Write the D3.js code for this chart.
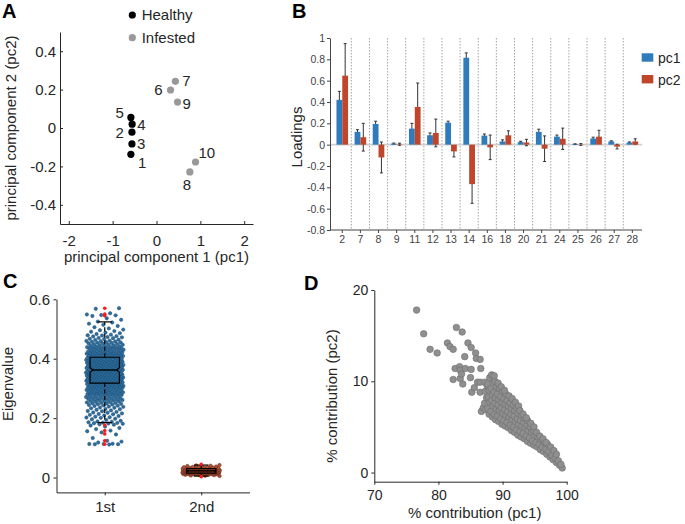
<!DOCTYPE html>
<html><head><meta charset="utf-8">
<script src="https://cdn.jsdelivr.net/npm/d3@7"></script>
<style>
body{margin:0;background:#fff;}
svg{font-family:"Liberation Sans",Arial,Helvetica,sans-serif;}
</style></head><body>
<svg id="chart" width="685" height="524"></svg>
<script>
// ---------------- Panel A data ----------------
const aLabels = ["1","2","3","4","5","6","7","8","9","10"];
const aGroup  = ["Healthy","Healthy","Healthy","Healthy","Healthy","Infested","Infested","Infested","Infested","Infested"];
const aPc1 = [-0.584,-0.56,-0.56,-0.555,-0.584, 0.32, 0.43, 0.76, 0.48, 0.89];
const aPc2 = [-0.137,-0.022,-0.083,0.02,0.055, 0.198, 0.243,-0.229, 0.135,-0.177];
const aXTicks = [-2,-1,0,1,2];
const aYTicks = [-0.4,-0.2,0,0.2,0.4];
const aLegend = ["Healthy","Infested"];

// ---------------- Panel B data ----------------
const bCats  = ["2","7","8","9","11","12","13","14","16","18","20","21","24","25","26","27","28"];
const bPc1   = [0.42,0.12,0.194,0.01,0.15,0.088,0.206,0.815,0.085,0.03,0.024,0.12,0.075,0.005,0.058,0.03,0.02];
const bPc1Err= [0.08,0.02,0.026,0.005,0.05,0.022,0.014,0.045,0.015,0.015,0.008,0.025,0.015,0.003,0.012,0.006,0.006];
const bPc2   = [0.647,0.07,-0.12,0.004,0.353,0.11,-0.063,-0.37,-0.025,0.088,0.02,-0.038,0.055,0.002,0.075,-0.018,0.03];
const bPc2Err= [0.30,0.13,0.145,0.01,0.225,0.13,0.052,0.18,0.115,0.042,0.03,0.12,0.10,0.008,0.06,0.022,0.025];
const bYTicks = [-0.8,-0.6,-0.4,-0.2,0,0.2,0.4,0.6,0.8,1];
const bSeries = ["pc1","pc2"];

// ---------------- Panel C data (eigenvalues, in thousandths) ----------------
const cCats = ["1st","2nd"];
const cFirst = [111,112,112,113,113,114,118,121,124,133,145,152,156,158,163,167,172,175,178,179,
181,182,183,184,185,186,188,189,191,194,196,198,201,202,203,205,207,209,211,213,214,216,218,219,
221,223,224,226,228,230,231,233,235,236,238,239,241,242,243,244,246,247,248,249,250,251,252,253,254,255,256,257,258,259,
260,261,261,262,263,264,265,265,266,267,268,269,270,271,271,272,273,274,275,276,277,278,278,279,
280,280,281,281,282,283,283,284,285,285,286,287,287,288,288,289,290,290,291,292,292,293,294,294,295,296,297,297,298,299,
300,300,301,301,302,302,303,303,304,304,305,305,306,307,307,308,308,309,310,310,311,311,312,312,313,313,314,315,315,316,316,317,318,318,319,319,
320,320,321,321,322,322,323,323,324,324,325,325,326,326,327,327,328,328,329,329,330,330,331,331,332,332,333,333,334,334,335,335,336,336,337,337,338,338,339,339,
340,340,341,341,342,342,343,343,344,344,344,345,345,346,346,347,347,348,348,349,349,350,350,351,351,352,352,353,353,354,354,355,355,356,356,357,357,358,358,359,359,359,
360,360,361,361,362,362,363,363,364,364,364,365,365,366,366,367,367,368,368,369,369,370,370,371,371,372,372,373,373,374,374,375,375,376,376,377,377,378,378,379,379,379,
380,380,381,381,382,382,383,383,384,384,385,385,386,386,387,387,388,388,389,389,390,390,391,391,392,392,393,393,394,394,395,395,396,396,397,397,398,398,399,399,
400,400,401,401,402,403,403,404,405,405,406,407,407,408,409,409,410,411,411,412,413,413,414,415,415,416,417,417,418,418,419,419,419,419,
420,421,421,422,423,424,424,425,426,427,427,428,429,430,430,431,432,433,433,434,435,436,436,437,438,438,439,439,
440,441,442,443,444,445,446,447,448,449,450,451,452,453,454,455,456,457,458,459,
460,461,463,464,466,467,469,470,472,473,475,476,478,479,481,483,486,488,491,493,496,498,
502,506,510,514,518,522,525,531,536,544,546,547,549,553,568,570];
const cSecond = [5,6,7,8,8,9,9,10,10,10,11,11,11,12,12,12,12,13,13,13,13,14,14,14,14,14,15,15,15,15,15,15,
16,16,16,16,16,16,17,17,17,17,17,17,17,18,18,18,18,18,18,18,19,19,19,19,19,19,19,20,20,20,20,20,20,20,20,
21,21,21,21,21,21,21,22,22,22,22,22,22,22,22,23,23,23,23,23,23,23,24,24,24,24,24,24,24,25,25,25,25,25,25,
26,26,26,26,26,26,27,27,27,27,27,28,28,28,28,28,29,29,29,29,30,30,30,30,31,31,31,32,32,32,33,33,34,34,35,35,36,37,38,39,40,41,42];
const cOutFirst  = [0.570,0.550,0.545,0.177,0.158,0.147,0.124,0.112];
const cOutSecond = [0.045,0.003];
const cQ1  = [0.318,0.015];
const cMed = [0.362,0.0225];
const cQ3  = [0.405,0.030];
const cWLo = [0.185,0.005];
const cWHi = [0.524,0.042];
const cYTicks = [0,0.2,0.4,0.6];

// ---------------- Panel D data ----------------
const dPc1 = [76.6,77.7,78.7,79.8,81.4,81.8,82.3,82.8,83.7,84.6,85.1,85.8,85.9,86.5,84.1,82.6,83.3,83.4,84.2,85.1,86.6,82.3,83.4,83.6,85.0,83.8,85.2,85.6,86.1,86.5,86.5,86.7,87.0,87.2,
87.4,87.2,87.5,87.3,87.6, 87.9,87.7,88.0,87.8,87.9,87.7,88.0, 88.4,88.2,88.5,88.3,88.4,88.2,88.5,88.3,
88.9,88.7,89.0,88.8,88.9,88.7,89.0,88.8,88.7, 89.4,89.2,89.5,89.3,89.4,89.2,89.5,89.3,
89.9,89.7,90.0,89.8,89.9,89.7,90.0,89.8, 90.4,90.2,90.5,90.3,90.4,90.2,90.5,90.3,
90.9,90.7,91.0,90.8,90.9,90.7,91.0, 91.4,91.2,91.5,91.3,91.4,91.2,91.5, 91.9,91.7,92.0,91.8,91.9,91.7,92.0,
92.4,92.2,92.5,92.3,92.4,92.2,92.5, 92.9,92.7,93.0,92.8,92.9,92.7, 93.4,93.2,93.5,93.3,93.4,93.2,
93.9,93.7,94.0,93.8,93.9,93.7, 94.4,94.2,94.5,94.3,94.4, 94.9,94.7,95.0,94.8,94.9, 95.4,95.2,95.5,95.3,
95.9,95.7,96.0,95.8, 96.4,96.2,96.5,96.3, 96.9,96.7,97.0,96.8, 97.4,97.2,97.5, 97.9,97.7,98.0, 98.4,98.2,98.4, 98.9,98.7, 99.3,99.1];
const dPc2 = [17.8,15.2,13.5,13.1,14.2,13.8,13.5,15.9,15.4,14.2,13.7,13.1,12.5,12.4,12.7,11.4,11.6,11.2,11.4,11.3,11.4,10.2,10.3,10.8,10.4,9.7,8.8,9.3,9.9,9.9,8.8,6.7,7.1,9.9,
6.9,7.6,8.2,8.9,9.5, 6.4,7.0,7.7,8.3,9.0,9.7,10.4, 6.1,6.7,7.3,7.9,8.5,9.2,9.8,10.7,
5.8,6.4,7.0,7.6,8.2,8.8,9.4,10.0,10.6, 5.6,6.2,6.8,7.4,8.0,8.6,9.2,9.8,
5.3,5.9,6.5,7.1,7.7,8.3,8.9,9.4, 5.1,5.7,6.3,6.9,7.5,8.1,8.6,9.0,
4.9,5.5,6.1,6.7,7.3,7.9,8.4, 4.6,5.2,5.8,6.4,7.0,7.6,8.1, 4.4,5.0,5.6,6.2,6.8,7.4,7.7,
4.1,4.7,5.3,5.9,6.5,7.1,7.3, 3.9,4.5,5.1,5.7,6.3,6.8, 3.7,4.3,4.9,5.5,6.0,6.4,
3.4,4.0,4.6,5.2,5.7,6.0, 3.2,3.8,4.4,5.0,5.4, 3.0,3.5,4.1,4.6,5.0, 2.8,3.3,3.9,4.4,
2.5,3.1,3.6,4.0, 2.3,2.8,3.3,3.7, 2.0,2.6,3.1,3.3, 1.7,2.3,2.8, 1.4,1.9,2.4, 1.1,1.6,2.0, 0.8,1.3, 0.5,0.9];
const dXTicks = [70,80,90,100];
const dYTicks = [0,10,20];

// ---------------- drawing ----------------
const svg = d3.select("#chart");
const AX = "#262626";

function drawAxis(g, axis, fs, color){
  g.call(axis);
  g.attr("font-family", null).attr("font-size", null);
  g.select(".domain").attr("stroke", color).attr("stroke-width", 1);
  g.selectAll(".tick line").attr("stroke", color).attr("stroke-width", 1);
  g.selectAll(".tick text").attr("fill", color).style("font-size", fs + "px");
}
function panelLabel(t, x, y){
  svg.append("text").attr("x", x).attr("y", y).text(t)
    .style("font-size","20px").style("font-weight","bold").attr("fill","#000");
}

// ===== Panel A =====
(function(){
  const x = d3.scaleLinear().domain([-2.2,2.2]).range([60,253]);
  const y = d3.scaleLinear().domain([-0.5,0.5]).range([224,32]);
  const g = svg.append("g");
  drawAxis(g.append("g").attr("transform","translate(0,224)"),
    d3.axisBottom(x).tickValues(aXTicks).tickFormat(d=>String(d)).tickSizeInner(-3).tickSizeOuter(0).tickPadding(11), 15, AX);
  drawAxis(g.append("g").attr("transform","translate(60,0)"),
    d3.axisLeft(y).tickValues(aYTicks).tickFormat(d=>String(d)).tickSizeInner(-3).tickSizeOuter(0).tickPadding(4), 15, AX);
  const col = {Healthy:"#000000", Infested:"#999999"};
  const offs = {"1":[7,9,"start"],"2":[-8,1,"end"],"3":[5,0,"start"],"4":[5,1,"start"],"5":[-7,-4,"end"],
                "6":[-8,0,"end"],"7":[7,0,"start"],"8":[-3,13,"middle"],"9":[5,2,"start"],"10":[3,-9,"start"]};
  aLabels.forEach((lab,i)=>{
    const px = x(aPc1[i]), py = y(aPc2[i]);
    g.append("circle").attr("cx",px).attr("cy",py).attr("r",3.6).attr("fill",col[aGroup[i]]);
    const o = offs[lab];
    g.append("text").attr("x",px+o[0]).attr("y",py+o[1]+5).attr("text-anchor",o[2])
      .style("font-size","15px").attr("fill",AX).text(lab);
  });
  aLegend.forEach((lab,i)=>{
    const ly = 15 + i*22.7;
    g.append("circle").attr("cx",132.3).attr("cy",ly).attr("r",3.6).attr("fill",col[lab]);
    g.append("text").attr("x",141.7).attr("y",ly+5.3).style("font-size","15px").attr("fill",AX).text(lab);
  });
  g.append("text").attr("x",156.5).attr("y",262).attr("text-anchor","middle").style("font-size","15px").attr("fill",AX)
    .text("principal component 1 (pc1)");
  g.append("text").attr("transform","translate(16,128) rotate(-90)").attr("text-anchor","middle").style("font-size","15px").attr("fill",AX)
    .text("principal component 2 (pc2)");
  panelLabel("A", 2, 18);
})();

// ===== Panel B =====
(function(){
  const x = d3.scaleBand().domain(bCats).range([333.2,641.4]);
  const y = d3.scaleLinear().domain([-0.8,1]).range([230,38]);
  const g = svg.append("g");
  const BC = "#444";
  bCats.slice(1).forEach(c=>{
    g.append("line").attr("x1",x(c)).attr("x2",x(c)).attr("y1",38).attr("y2",230)
      .attr("stroke","#9a9a9a").attr("stroke-width",0.9).attr("stroke-dasharray","1.5,1.5");
  });
  g.append("line").attr("x1",330).attr("x2",642).attr("y1",y(0)).attr("y2",y(0))
    .attr("stroke","#cfcfcf").attr("stroke-width",1.6);
  const bw = 5.8;
  const series = [
    {v:bPc1, e:bPc1Err, dx:-bw, col:"#2f7bbb"},
    {v:bPc2, e:bPc2Err, dx:0,   col:"#bf462b"}];
  series.forEach(s=>{
    bCats.forEach((c,i)=>{
      const cx = x(c) + x.bandwidth()/2 + s.dx + bw/2;
      const lo = s.v[i]-s.e[i], hi = s.v[i]+s.e[i];
      g.append("line").attr("x1",cx).attr("x2",cx).attr("y1",y(lo)).attr("y2",y(hi)).attr("stroke","#333").attr("stroke-width",1);
      g.append("line").attr("x1",cx-1.5).attr("x2",cx+1.5).attr("y1",y(hi)).attr("y2",y(hi)).attr("stroke","#333").attr("stroke-width",1);
      g.append("line").attr("x1",cx-1.5).attr("x2",cx+1.5).attr("y1",y(lo)).attr("y2",y(lo)).attr("stroke","#333").attr("stroke-width",1);
    });
  });
  series.forEach(s=>{
    bCats.forEach((c,i)=>{
      const bx = x(c) + x.bandwidth()/2 + s.dx;
      const v = s.v[i];
      g.append("rect").attr("x",bx).attr("width",bw)
        .attr("y",y(Math.max(0,v))).attr("height",Math.abs(y(v)-y(0)))
        .attr("fill",s.col);
    });
  });
  const xa = g.append("g").attr("transform","translate(0,230)");
  drawAxis(xa, d3.axisBottom(x).tickSizeInner(3).tickSizeOuter(0).tickPadding(2.5), 10.5, BC);
  xa.select(".domain").remove();
  g.append("line").attr("x1",330).attr("x2",642).attr("y1",230).attr("y2",230).attr("stroke",BC);
  drawAxis(g.append("g").attr("transform","translate(330,0)"),
    d3.axisLeft(y).tickValues(bYTicks).tickFormat(d=>String(d)).tickSizeInner(3).tickSizeOuter(0).tickPadding(2), 10.5, BC);
  const lc = ["#2f7bbb","#bf462b"];
  bSeries.forEach((s,i)=>{
    const ly = 53.3 + i*21.7;
    g.append("rect").attr("x",641.7).attr("y",ly).attr("width",11.6).attr("height",8.4).attr("fill",lc[i]);
    g.append("text").attr("x",658).attr("y",ly+10).style("font-size","14px").attr("fill",AX).text(s);
  });
  g.append("text").attr("transform","translate(302,137) rotate(-90)").attr("text-anchor","middle")
    .style("font-size","15px").attr("fill",AX).text("Loadings");
  panelLabel("B", 292, 18);
})();

// ===== Panel C =====
(function(){
  const x = d3.scaleLinear().domain([0.5,2.5]).range([56.5,249.5]);
  const y = d3.scaleLinear().domain([-0.05,0.6]).range([492.4,299.3]);
  const g = svg.append("g");
  const jit = 0.195;
  const groups = [
    {vals:cFirst, fill:"#2e6f9f", stroke:"#1b4a70"},
    {vals:cSecond, fill:"#b4543a", stroke:"#5e2515"}];
  groups.forEach((grp,gi)=>{
    grp.vals.forEach((v,i)=>{
      const f = ((i+1)*0.6180339887 + gi*0.37) % 1;
      g.append("circle").attr("cx",x(gi+1 + (f-0.5)*2*jit)).attr("cy",y(v/1000)).attr("r",1.7)
        .attr("fill",grp.fill).attr("stroke",grp.stroke).attr("stroke-width",0.5);
    });
  });
  const hw = 0.152, ind = 0.03, notch = [0.008,0.002];
  cCats.forEach((c,i)=>{
    const cx = i+1;
    [[cQ3[i],cWHi[i]],[cQ1[i],cWLo[i]]].forEach(p=>{
      g.append("line").attr("x1",x(cx)).attr("x2",x(cx)).attr("y1",y(p[0])).attr("y2",y(p[1]))
        .attr("stroke","#000").attr("stroke-width",1.2).attr("stroke-dasharray","4,2.5");
      g.append("line").attr("x1",x(cx-0.075)).attr("x2",x(cx+0.075)).attr("y1",y(p[1])).attr("y2",y(p[1]))
        .attr("stroke","#000").attr("stroke-width",1.2);
    });
    const xl=x(cx-hw), xr=x(cx+hw), xli=x(cx-hw+ind), xri=x(cx+hw-ind);
    const yq3=y(cQ3[i]), yq1=y(cQ1[i]), ym=y(cMed[i]), yt=y(cMed[i]+notch[i]), yb=y(cMed[i]-notch[i]);
    g.append("path").attr("d",`M${xl},${yq3}L${xl},${yt}L${xli},${ym}L${xl},${yb}L${xl},${yq1}L${xr},${yq1}L${xr},${yb}L${xri},${ym}L${xr},${yt}L${xr},${yq3}Z`)
      .attr("fill","none").attr("stroke","#000").attr("stroke-width",1.2);
    g.append("line").attr("x1",xli).attr("x2",xri).attr("y1",ym).attr("y2",ym).attr("stroke","#000").attr("stroke-width",1.4);
    const outs = i===0 ? cOutFirst : cOutSecond;
    outs.forEach(v=>{
      g.append("circle").attr("cx",x(cx)).attr("cy",y(v)).attr("r",1.8).attr("fill","#ff1a1a");
    });
  });
  drawAxis(g.append("g").attr("transform","translate(0,492.4)"),
    d3.axisBottom(x).tickValues([1,2]).tickFormat((d,i)=>cCats[i]).tickSizeInner(3).tickSizeOuter(0).tickPadding(6), 15, AX);
  drawAxis(g.append("g").attr("transform","translate(56.5,0)"),
    d3.axisLeft(y).tickValues(cYTicks).tickFormat(d=>String(d)).tickSizeInner(3).tickSizeOuter(0).tickPadding(3.5), 15, AX);
  g.append("text").attr("transform","translate(13,384) rotate(-90)").attr("text-anchor","middle")
    .style("font-size","15px").attr("fill",AX).text("Eigenvalue");
  panelLabel("C", 3, 288);
})();

// ===== Panel D =====
(function(){
  const x = d3.scaleLinear().domain([70,100]).range([374.3,566.7]);
  const y = d3.scaleLinear().domain([-1,20]).range([481.7,290]);
  const g = svg.append("g");
  dPc1.forEach((v,i)=>{
    g.append("circle").attr("cx",x(v)).attr("cy",y(dPc2[i])).attr("r",3.3)
      .attr("fill","#8f8f8f").attr("stroke","#6e6e6e").attr("stroke-width",0.6);
  });
  drawAxis(g.append("g").attr("transform","translate(0,481.7)"),
    d3.axisBottom(x).tickValues(dXTicks).tickFormat(d=>String(d)).tickSizeInner(3).tickSizeOuter(0).tickPadding(5.5), 14, AX);
  drawAxis(g.append("g").attr("transform","translate(374.3,0)"),
    d3.axisLeft(y).tickValues(dYTicks).tickFormat(d=>String(d)).tickSizeInner(3).tickSizeOuter(0).tickPadding(3), 14, AX);
  g.append("text").attr("x",474.7).attr("y",518).attr("text-anchor","middle")
    .style("font-size","15px").attr("fill",AX).text("% contribution (pc1)");
  g.append("text").attr("transform","translate(337,396) rotate(-90)").attr("text-anchor","middle")
    .style("font-size","15px").attr("fill",AX).text("% contribution (pc2)");
  panelLabel("D", 304, 290);
})();
</script>
</body></html>
